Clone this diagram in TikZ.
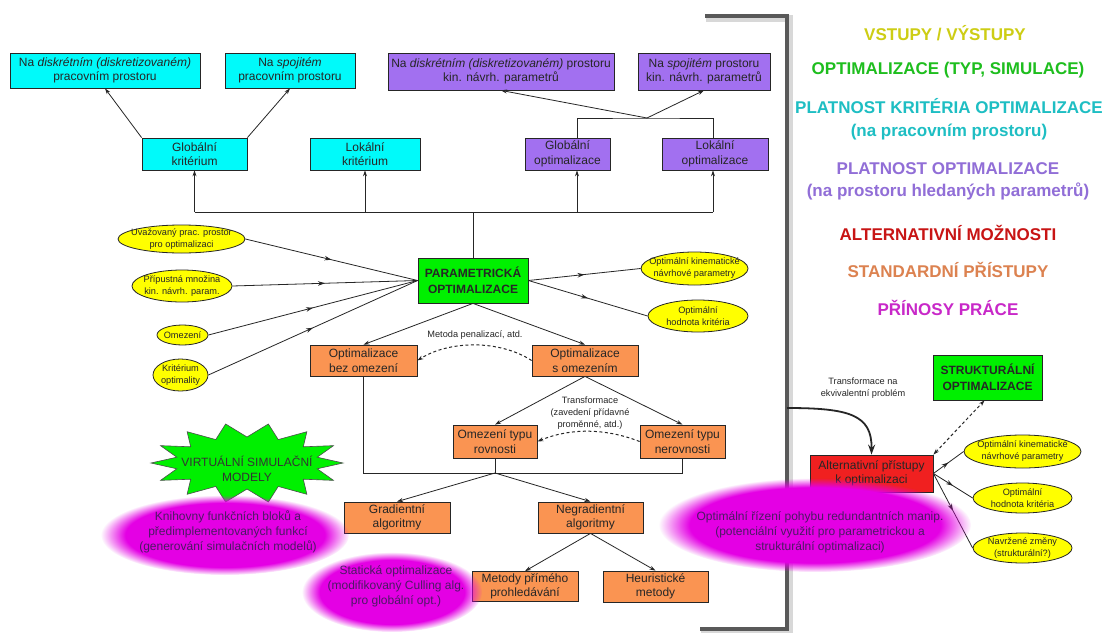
\documentclass[tikz,border=0pt]{standalone}
\usepackage{fontspec}
\setmainfont{Liberation Sans}
\usetikzlibrary{
  positioning,
  arrows.meta,
  shapes.geometric,
  decorations.markings,
  fadings
}
\definecolor{kritfill}{RGB}{0,250,250}
\definecolor{optfill}{RGB}{162,112,240}
\definecolor{stdfill}{RGB}{250,148,82}
\definecolor{typfill}{RGB}{0,240,0}
\definecolor{altfill}{RGB}{240,32,32}
\definecolor{iofill}{RGB}{255,255,0}
\definecolor{blobcol}{RGB}{228,0,228}
\definecolor{blobtxt}{RGB}{75,25,100}
\definecolor{legyel}{RGB}{205,205,20}
\definecolor{leggrn}{RGB}{30,190,30}
\definecolor{legcya}{RGB}{30,190,195}
\definecolor{legpur}{RGB}{145,110,215}
\definecolor{legred}{RGB}{200,20,20}
\definecolor{legora}{RGB}{220,130,80}
\definecolor{legmag}{RGB}{200,40,200}

% rozmazany okraj pro prinosy prace
\pgfdeclareradialshading{blobshading}{\pgfpointorigin}{color(0bp)=(white); color(20bp)=(white); color(25bp)=(black); color(50bp)=(black)}
\pgfdeclarefading{blobfade}{\pgfuseshading{blobshading}}

\tikzstyle{box}=[draw=black!85, line width=0.8pt, align=center, inner sep=0pt, text=black!85, font=\fontsize{12}{14.5}\selectfont]
\tikzstyle{kbox}=[box, fill=kritfill]
\tikzstyle{pbox}=[box, fill=optfill]
\tikzstyle{sbox}=[box, fill=stdfill]
\tikzstyle{abox}=[box, fill=altfill]
\tikzstyle{gbox}=[box, fill=typfill, font=\bfseries\fontsize{12}{16}\selectfont]
\tikzstyle{io}=[ellipse, draw=black!85, line width=0.8pt, fill=iofill, inner sep=0pt]
\tikzstyle{iotext}=[align=center, inner sep=0pt, text=black!85, font=\fontsize{9.2}{12}\selectfont]
\tikzstyle{conn}=[line width=0.8pt, black!85]
\tikzstyle{arr}=[conn, -{Stealth[length=6pt, width=4pt]}]
\tikzstyle{midarr}=[conn, postaction={decorate}, decoration={markings, mark=at position 0.5 with {\arrow{Stealth[length=7pt, width=4.5pt]}}}]
\tikzstyle{dasharr}=[arr, line width=1pt, dash pattern=on 3pt off 2.5pt]
\tikzstyle{dash2}=[dasharr, {Stealth[length=6pt, width=4pt]}-{Stealth[length=6pt, width=4pt]}]
\tikzstyle{thickarr}=[line width=1.8pt, black!85, -{Stealth[length=10pt, width=7pt]}]
\tikzstyle{brk}=[line width=4pt, black!65]
\tikzstyle{vstar}=[fill=typfill, draw=black!70, line width=0.6pt]
\tikzstyle{blob}=[fill=blobcol, path fading=blobfade]
\tikzstyle{blobtext}=[align=center, inner sep=0pt, text=blobtxt, font=\fontsize{12}{15}\selectfont]
\tikzstyle{legend}=[align=center, inner sep=0pt, font=\bfseries\fontsize{17}{22.5}\selectfont]

\begin{document}
\begin{tikzpicture}[x=1pt, y=-1pt]
    % plocha obrazku
    \fill[white] (0,0) rectangle (1111,632);
    \useasboundingbox (0,0) rectangle (1111,632);

    % zavorka oddelujici legendu
    \draw[line width=7pt, black!30, opacity=0.5] (706,18) -- (789,18) -- (789,631) -- (701,631);
    \draw[brk] (705,16) -- (787,16) -- (787,629) -- (700,629);

    % platnost kriteria
    \node[kbox, minimum width=190pt, minimum height=35pt] (kd) at (105,70.5) {Na \textit{diskrétním (diskretizovaném)}\\pracovním prostoru};
    \node[kbox, minimum width=130pt, minimum height=35pt] (ks) at (290,70.5) {Na \textit{spojitém}\\pracovním prostoru};
    \node[kbox, minimum width=105pt, minimum height=32pt] (gk) at (194.5,154) {Globální\\kritérium};
    \node[kbox, minimum width=110pt, minimum height=32pt] (lk) at (365,154) {Lokální\\kritérium};

    % platnost optimalizace
    \node[pbox, minimum width=226pt, minimum height=37pt] (pd) at (501,71.5) {Na \textit{diskrétním (diskretizovaném)} prostoru\\kin. návrh. parametrů};
    \node[pbox, minimum width=132pt, minimum height=37pt] (ps) at (704,71.5) {Na \textit{spojitém} prostoru\\kin. návrh. parametrů};
    \node[pbox, minimum width=85pt, minimum height=32pt] (go) at (567.5,154) {Globální\\optimalizace};
    \node[pbox, minimum width=106pt, minimum height=32pt] (lo) at (715,154) {Lokální\\optimalizace};
    \coordinate (goin) at ([xshift=9.5pt]go.south);
    \coordinate (loin) at ([xshift=-2pt]lo.south);

    % parametricka optimalizace
    \node[gbox, minimum width=110pt, minimum height=45pt] (par) at (473,280.5) {PARAMETRICKÁ\\OPTIMALIZACE};

    % vstupy
    \node[io, minimum width=127pt, minimum height=28pt] (uv) at (181.5,239) {};
    \node[iotext] (uvt) at (uv) {Uvažovaný prac. prostor\\pro optimalizaci};
    \node[io, minimum width=100pt, minimum height=32pt] (pm) at (182,286) {};
    \node[iotext] (pmt) at (pm) {Přípustná množina\\kin. návrh. param.};
    \node[io, minimum width=51pt, minimum height=20pt] (om) at (182.5,335) {};
    \node[iotext] (omt) at (om) {Omezení};
    \node[io, minimum width=55pt, minimum height=32pt] (kr) at (180.5,375) {};
    \node[iotext] (krt) at (kr) {Kritérium\\optimality};

    % vystupy
    \node[io, minimum width=107pt, minimum height=33pt] (okp) at (694.5,268.5) {};
    \node[iotext] (okpt) at (okp) {Optimální kinematické\\návrhové parametry};
    \node[io, minimum width=100pt, minimum height=32pt] (ohk) at (698,316) {};
    \node[iotext] (ohkt) at (ohk) {Optimální\\hodnota kritéria};

    % standardni pristupy
    \node[sbox, minimum width=107pt, minimum height=31pt] (bez) at (363.5,360.5) {Optimalizace\\bez omezení};
    \node[sbox, minimum width=106pt, minimum height=31pt] (som) at (585,360.5) {Optimalizace\\s omezením};
    \node[sbox, minimum width=84pt, minimum height=33pt] (rov) at (495,441.5) {Omezení typu\\rovnosti};
    \node[sbox, minimum width=85pt, minimum height=33pt] (ner) at (682.5,441.5) {Omezení typu\\nerovnosti};
    \node[sbox, minimum width=106pt, minimum height=31pt] (gra) at (397,517.5) {Gradientní\\algoritmy};
    \node[sbox, minimum width=105pt, minimum height=31pt] (ngr) at (590.5,517.5) {Negradientní\\algoritmy};
    \node[sbox, minimum width=106pt, minimum height=30pt] (mpp) at (525,586.5) {Metody přímého\\prohledávání};
    \node[sbox, minimum width=105pt, minimum height=31pt] (heu) at (655.5,586.5) {Heuristické\\metody};

    % popisky prechodu
    \node[iotext] (pen) at (475,335) {Metoda penalizací, atd.};
    \node[iotext] (trf) at (590,413) {Transformace\\(zavedení přídavné\\proměnné, atd.)};
    \node[iotext] (tek) at (863,388.5) {Transformace na\\ekvivalentní problém};

    % alternativni moznosti
    \node[abox, minimum width=123pt, minimum height=37pt] (alt) at (871.5,473.5) {Alternativní přístupy\\k optimalizaci};
    \node[gbox, minimum width=109pt, minimum height=45pt] (str) at (987.5,377.5) {STRUKTURÁLNÍ\\OPTIMALIZACE};
    \node[io, minimum width=117pt, minimum height=33pt] (sok) at (1022.5,451.5) {};
    \node[iotext] (sokt) at (sok) {Optimální kinematické\\návrhové parametry};
    \node[io, minimum width=99pt, minimum height=30pt] (soh) at (1022.5,498) {};
    \node[iotext] (soht) at (soh) {Optimální\\hodnota kritéria};
    \node[io, minimum width=99pt, minimum height=30pt] (snz) at (1022.5,548) {};
    \node[iotext] (snzt) at (snz) {Navržené změny\\(strukturální?)};

    % sbernice nad parametrickou optimalizaci
    \coordinate (bus) at (473,212);
    \draw[conn] (par.north) -- (bus);
    \draw[conn] (gk.south |- bus) -- (loin |- bus);
    \draw[arr] (gk.south |- bus) -- (gk.south);
    \draw[arr] (lk.south |- bus) -- (lk.south);
    \draw[arr] (goin |- bus) -- (goin);
    \draw[arr] (loin |- bus) -- (loin);

    % vetveni nahoru
    \draw[arr] (gk.north west) -- (kd.south);
    \draw[arr] (gk.north east) -- (ks.south);
    \coordinate (pj) at (647,118);
    \draw[conn] (goin |- go.north) |- (pj) -| (loin |- lo.north);
    \draw[arr] (pj) -- (pd.south);
    \draw[arr] (pj) -- (ps.south);

    % vstupy a vystupy
    \draw[midarr] (uv.east) -- (par.west);
    \draw[midarr] (pm.east) -- (par.west);
    \draw[midarr] (om.east) -- (par.west);
    \draw[midarr] (kr.east) -- (par.west);
    \draw[midarr] (par.east) -- (okp.west);
    \draw[midarr] (par.east) -- (ohk.west);

    % rozklad na standardni pristupy
    \draw[arr] (par.south) -- (bez.north);
    \draw[arr] (par.south) -- (som.north);
    \draw[dasharr] (som.west) .. controls (500,340) and (450,340) .. (bez.east);
    \draw[arr] (som.south) -- (rov.north);
    \draw[arr] (som.south) -- (ner.north);
    \draw[dasharr] (ner.west) .. controls (605,428) and (570,428) .. (rov.east);

    \coordinate (jn) at (495,473);
    \draw[conn] (bez.south) |- (ner.south |- jn) -- (ner.south);
    \draw[conn] (rov.south) -- (jn);
    \draw[arr] (jn) -- (gra.north);
    \draw[arr] (jn) -- (ngr.north);
    \draw[arr] (ngr.south) -- (mpp.north);
    \draw[arr] (ngr.south) -- (heu.north);

    % prechod na alternativni pristupy
    \coordinate (tstart) at (787,408);
    \draw[thickarr] (tstart) .. controls (850,408) and (872,415) .. (alt.north);
    \draw[dash2] (alt.north east) -- ([xshift=-3pt]str.south);
    \draw[midarr] (alt.east) -- (sok.west);
    \draw[midarr] (alt.east) -- (soh.west);
    \draw[midarr] (alt.east) -- (snz.west);

    % virtualni simulacni modely
    \draw[vstar] plot[variable=\i, samples at={0,...,27}] ({247+(96-24*mod(\i,2))*cos(\i*360/28)}, {463+(40-14*mod(\i,2))*sin(\i*360/28)}) -- cycle;
    \node[align=center, inner sep=0pt, text=black!80, font=\fontsize{12}{15}\selectfont] (vsm) at (247,469) {VIRTUÁLNÍ SIMULAČNÍ\\MODELY};

    % prinosy prace
    \fill[blob] (225,535) ellipse (124 and 40);
    \node[blobtext] (knb) at (228,532) {Knihovny funkčních bloků a\\předimplementovaných funkcí\\(generování simulačních modelů)};
    \fill[blob] (392,592) ellipse (90 and 40);
    \node[blobtext] (sto) at (396,586) {Statická optimalizace\\(modifikovaný Culling alg.\\pro globální opt.)};
    \fill[blob] (815,525) ellipse (156 and 47);
    \node[blobtext] (ori) at (820,532) {Optimální řízení pohybu redundantních manip.\\(potenciální využití pro parametrickou a\\strukturální optimalizaci)};

    % legenda
    \node[legend, text=legyel] (l1) at (945,33) {VSTUPY / VÝSTUPY};
    \node[legend, text=leggrn] (l2) at (948,70) {OPTIMALIZACE (TYP, SIMULACE)};
    \node[legend, text=legcya] (l3) at (949,119) {PLATNOST KRITÉRIA OPTIMALIZACE\\(na pracovním prostoru)};
    \node[legend, text=legpur] (l4) at (948,181.5) {PLATNOST OPTIMALIZACE\\(na prostoru hledaných parametrů)};
    \node[legend, text=legred] (l5) at (948,233) {ALTERNATIVNÍ MOŽNOSTI};
    \node[legend, text=legora] (l6) at (948,270) {STANDARDNÍ PŘÍSTUPY};
    \node[legend, text=legmag] (l7) at (948,308) {PŘÍNOSY PRÁCE};
\end{tikzpicture}
\end{document}
